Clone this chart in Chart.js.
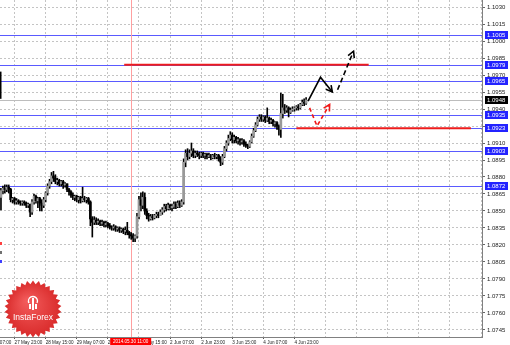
<!DOCTYPE html>
<html>
<head>
<meta charset="utf-8">
<script src="https://cdn.jsdelivr.net/npm/chart.js@4/dist/chart.umd.min.js"></script>
<style>
html, body { margin: 0; padding: 0; background: #fff; overflow: hidden; }
canvas { display: block; }
</style>
</head>
<body>
<canvas id="myChart" width="510" height="345"></canvas>
<script>
// H1 candles, 27 May - 4 Jun 2014
const opens = [
	1.0862, 1.0868, 1.0870, 1.0869, 1.0871, 1.0869, 1.0860, 1.0861, 1.0858, 1.0859,
	1.0858, 1.0857, 1.0858, 1.0857, 1.0855, 1.0856, 1.0849, 1.0858, 1.0863, 1.0859,
	1.0861, 1.0857, 1.0855, 1.0860, 1.0866, 1.0872, 1.0876, 1.0881, 1.0879, 1.0876,
	1.0877, 1.0874, 1.0876, 1.0873, 1.0874, 1.0869, 1.0867, 1.0864, 1.0862, 1.0863,
	1.0860, 1.0862, 1.0859, 1.0861, 1.0860, 1.0861, 1.0858, 1.0843, 1.0840, 1.0842,
	1.0840, 1.0841, 1.0839, 1.0840, 1.0838, 1.0839, 1.0837, 1.0836, 1.0835, 1.0836,
	1.0834, 1.0835, 1.0833, 1.0834, 1.0832, 1.0833, 1.0831, 1.0829, 1.0828, 1.0826,
	1.0828, 1.0845, 1.0860, 1.0855, 1.0862, 1.0850, 1.0846, 1.0843, 1.0845, 1.0844,
	1.0846, 1.0847, 1.0846, 1.0849, 1.0851, 1.0854, 1.0852, 1.0855, 1.0853, 1.0854,
	1.0856, 1.0854, 1.0857, 1.0855, 1.0858, 1.0893, 1.0901, 1.0898, 1.0901, 1.0903,
	1.0899, 1.0901, 1.0900, 1.0899, 1.0901, 1.0899, 1.0900, 1.0898, 1.0899, 1.0897,
	1.0899, 1.0898, 1.0899, 1.0896, 1.0893, 1.0898, 1.0905, 1.0910, 1.0914, 1.0917,
	1.0913, 1.0915, 1.0912, 1.0913, 1.0911, 1.0912, 1.0909, 1.0908, 1.0907, 1.0911,
	1.0916, 1.0921, 1.0926, 1.0931, 1.0933, 1.0931, 1.0933, 1.0930, 1.0932, 1.0929,
	1.0930, 1.0927, 1.0928, 1.0925, 1.0922, 1.0936, 1.0941, 1.0939, 1.0941, 1.0937,
	1.0939, 1.0940, 1.0941, 1.0942, 1.0941, 1.0944, 1.0946, 1.0945,
];
const highs = [
	1.0870, 1.0872, 1.0873, 1.0873, 1.0873, 1.0870, 1.0862, 1.0862, 1.0861, 1.0860,
	1.0859, 1.0859, 1.0859, 1.0858, 1.0857, 1.0856, 1.0860, 1.0865, 1.0864, 1.0862,
	1.0862, 1.0860, 1.0862, 1.0867, 1.0874, 1.0878, 1.0884, 1.0885, 1.0882, 1.0879,
	1.0878, 1.0877, 1.0877, 1.0875, 1.0874, 1.0870, 1.0868, 1.0866, 1.0864, 1.0864,
	1.0863, 1.0863, 1.0871, 1.0863, 1.0862, 1.0862, 1.0859, 1.0845, 1.0845, 1.0844,
	1.0843, 1.0842, 1.0842, 1.0841, 1.0841, 1.0840, 1.0839, 1.0837, 1.0838, 1.0837,
	1.0836, 1.0836, 1.0835, 1.0835, 1.0836, 1.0840, 1.0832, 1.0831, 1.0830, 1.0829,
	1.0848, 1.0863, 1.0866, 1.0867, 1.0866, 1.0852, 1.0848, 1.0847, 1.0847, 1.0847,
	1.0849, 1.0849, 1.0851, 1.0853, 1.0856, 1.0856, 1.0857, 1.0856, 1.0856, 1.0858,
	1.0858, 1.0859, 1.0859, 1.0860, 1.0896, 1.0904, 1.0905, 1.0904, 1.0910, 1.0905,
	1.0903, 1.0903, 1.0902, 1.0902, 1.0902, 1.0901, 1.0901, 1.0901, 1.0900, 1.0900,
	1.0901, 1.0900, 1.0900, 1.0898, 1.0900, 1.0907, 1.0912, 1.0917, 1.0920, 1.0919,
	1.0917, 1.0916, 1.0915, 1.0914, 1.0914, 1.0913, 1.0911, 1.0909, 1.0912, 1.0918,
	1.0923, 1.0928, 1.0933, 1.0935, 1.0935, 1.0934, 1.0934, 1.0941, 1.0933, 1.0932,
	1.0931, 1.0929, 1.0929, 1.0926, 1.0954, 1.0953, 1.0944, 1.0943, 1.0942, 1.0941,
	1.0942, 1.0942, 1.0943, 1.0944, 1.0945, 1.0948, 1.0949, 1.0950,
];
const lows = [
	1.0851, 1.0865, 1.0866, 1.0867, 1.0866, 1.0858, 1.0857, 1.0856, 1.0856, 1.0856,
	1.0855, 1.0855, 1.0855, 1.0853, 1.0853, 1.0845, 1.0847, 1.0856, 1.0857, 1.0853,
	1.0850, 1.0850, 1.0853, 1.0858, 1.0864, 1.0870, 1.0874, 1.0876, 1.0874, 1.0873,
	1.0872, 1.0872, 1.0870, 1.0871, 1.0867, 1.0864, 1.0862, 1.0860, 1.0859, 1.0858,
	1.0857, 1.0857, 1.0858, 1.0858, 1.0857, 1.0856, 1.0837, 1.0827, 1.0838, 1.0838,
	1.0838, 1.0837, 1.0837, 1.0836, 1.0836, 1.0835, 1.0834, 1.0833, 1.0833, 1.0832,
	1.0832, 1.0831, 1.0831, 1.0830, 1.0829, 1.0829, 1.0826, 1.0825, 1.0823, 1.0823,
	1.0826, 1.0843, 1.0850, 1.0852, 1.0847, 1.0843, 1.0841, 1.0842, 1.0842, 1.0843,
	1.0844, 1.0844, 1.0846, 1.0847, 1.0849, 1.0850, 1.0851, 1.0851, 1.0850, 1.0852,
	1.0852, 1.0853, 1.0853, 1.0854, 1.0856, 1.0889, 1.0895, 1.0896, 1.0898, 1.0897,
	1.0897, 1.0898, 1.0896, 1.0897, 1.0897, 1.0896, 1.0896, 1.0897, 1.0895, 1.0896,
	1.0896, 1.0896, 1.0894, 1.0890, 1.0891, 1.0897, 1.0903, 1.0908, 1.0912, 1.0910,
	1.0910, 1.0910, 1.0909, 1.0908, 1.0909, 1.0907, 1.0906, 1.0905, 1.0906, 1.0910,
	1.0915, 1.0920, 1.0925, 1.0929, 1.0929, 1.0929, 1.0928, 1.0929, 1.0927, 1.0927,
	1.0925, 1.0924, 1.0922, 1.0917, 1.0915, 1.0932, 1.0936, 1.0937, 1.0933, 1.0936,
	1.0938, 1.0938, 1.0939, 1.0939, 1.0940, 1.0943, 1.0943, 1.0944,
];
const closes = [
	1.0868, 1.0870, 1.0869, 1.0871, 1.0869, 1.0860, 1.0861, 1.0858, 1.0859, 1.0858,
	1.0857, 1.0858, 1.0857, 1.0855, 1.0856, 1.0849, 1.0858, 1.0863, 1.0859, 1.0861,
	1.0857, 1.0855, 1.0860, 1.0866, 1.0872, 1.0876, 1.0881, 1.0879, 1.0876, 1.0877,
	1.0874, 1.0876, 1.0873, 1.0874, 1.0869, 1.0867, 1.0864, 1.0862, 1.0863, 1.0860,
	1.0862, 1.0859, 1.0861, 1.0860, 1.0861, 1.0858, 1.0843, 1.0840, 1.0842, 1.0840,
	1.0841, 1.0839, 1.0840, 1.0838, 1.0839, 1.0837, 1.0836, 1.0835, 1.0836, 1.0834,
	1.0835, 1.0833, 1.0834, 1.0832, 1.0833, 1.0831, 1.0829, 1.0828, 1.0826, 1.0828,
	1.0845, 1.0860, 1.0855, 1.0862, 1.0850, 1.0846, 1.0843, 1.0845, 1.0844, 1.0846,
	1.0847, 1.0846, 1.0849, 1.0851, 1.0854, 1.0852, 1.0855, 1.0853, 1.0854, 1.0856,
	1.0854, 1.0857, 1.0855, 1.0858, 1.0893, 1.0901, 1.0898, 1.0901, 1.0903, 1.0899,
	1.0901, 1.0900, 1.0899, 1.0901, 1.0899, 1.0900, 1.0898, 1.0899, 1.0897, 1.0899,
	1.0898, 1.0899, 1.0896, 1.0893, 1.0898, 1.0905, 1.0910, 1.0914, 1.0917, 1.0913,
	1.0915, 1.0912, 1.0913, 1.0911, 1.0912, 1.0909, 1.0908, 1.0907, 1.0911, 1.0916,
	1.0921, 1.0926, 1.0931, 1.0933, 1.0931, 1.0933, 1.0930, 1.0932, 1.0929, 1.0930,
	1.0927, 1.0928, 1.0925, 1.0922, 1.0936, 1.0941, 1.0939, 1.0941, 1.0937, 1.0939,
	1.0940, 1.0941, 1.0942, 1.0941, 1.0944, 1.0946, 1.0945, 1.0948,
];

// time axis: one slot per hour, empty slots on the right
const slotCount = 248;
const timeTickIndex = [7, 23, 39, 55, 71, 87, 103, 119, 135, 151];
const timeTickText = [
	"27 May 23:00", "28 May 15:00", "29 May 07:00", "29 May 23:00", "30 May 15:00",
	"2 Jun 07:00", "2 Jun 23:00", "3 Jun 15:00", "4 Jun 07:00", "4 Jun 23:00",
];
const gridIndex = [7, 23, 39, 55, 71, 87, 103, 119, 135, 151, 167, 183, 199, 215, 231, 247];

// price axis
const priceTicks = [
	1.1030, 1.1015, 1.1000, 1.0985, 1.0970, 1.0955, 1.0940, 1.0925, 1.0910, 1.0895,
	1.0880, 1.0865, 1.0850, 1.0835, 1.0820, 1.0805, 1.0790, 1.0775, 1.0760, 1.0745,
];
const priceMin = 1.07388;
const priceMax = 1.10362;

// levels drawn on the chart
const levelPrices = [1.1005, 1.0979, 1.0965, 1.0935, 1.0923, 1.0903, 1.0872];
const bidPrice = 1.0948;
const markIndex = 67;
const markText = "2014.05.30 11:00";
const redLevels = [
	{ price: 1.0979, from: 63.4, to: 189.2 },
	{ price: 1.0923, from: 152, to: 241.8 },
];
const solidArrow = [[158.0, 1.0947], [164.4, 1.0968], [170.5, 1.0955]];
const dashedArrow = [[173.2, 1.0957], [181.4, 1.0991]];
const redArrow = [[158.8, 1.0941], [162.6, 1.0925], [169.1, 1.0944]];

const FONT = "'Liberation Sans', Arial, sans-serif";
const ctx = document.getElementById("myChart");

const labels = [];
for (let i = 0; i < slotCount; i++) labels.push(String(i));

const wicks = [];
const bodies = [];
const bodyColors = [];
for (let i = 0; i < slotCount; i++) {
	if (i < closes.length) {
		wicks.push([lows[i], highs[i]]);
		bodies.push([opens[i], closes[i]]);
		bodyColors.push(closes[i] >= opens[i] ? "#999999" : "#000000");
	} else {
		wicks.push(null);
		bodies.push(null);
		bodyColors.push("#000000");
	}
}

function polyline(c, pts, x, y) {
	c.beginPath();
	pts.forEach((p, k) => {
		const px = x.getPixelForValue(p[0]);
		const py = y.getPixelForValue(p[1]);
		if (k === 0) c.moveTo(px, py);
		else c.lineTo(px, py);
	});
	c.stroke();
}

function arrowHead(c, pts, x, y) {
	const a = pts[pts.length - 2];
	const b = pts[pts.length - 1];
	const ax = x.getPixelForValue(a[0]), ay = y.getPixelForValue(a[1]);
	const bx = x.getPixelForValue(b[0]), by = y.getPixelForValue(b[1]);
	const ang = Math.atan2(by - ay, bx - ax);
	c.setLineDash([]);
	c.beginPath();
	c.moveTo(bx - 7 * Math.cos(ang - 0.5), by - 7 * Math.sin(ang - 0.5));
	c.lineTo(bx, by);
	c.lineTo(bx - 7 * Math.cos(ang + 0.5), by - 7 * Math.sin(ang + 0.5));
	c.stroke();
}

function priceBox(c, y, p, fill) {
	const yy = Math.round(y.getPixelForValue(p));
	c.fillStyle = fill;
	c.fillRect(485, yy - 4, 23, 8);
	c.fillStyle = "#ffffff";
	c.font = "6px " + FONT;
	c.textBaseline = "middle";
	c.textAlign = "left";
	c.fillText(p.toFixed(4), 487, yy + 0.5);
}

const drawings = {
	id: "drawings",
	beforeDatasetsDraw(chart) {
		const { ctx: c, chartArea: a, scales: { x, y } } = chart;
		c.save();
		c.lineWidth = 1;
		c.strokeStyle = "#5a5aff";
		levelPrices.forEach((p) => {
			const yy = Math.round(y.getPixelForValue(p)) + 0.5;
			c.beginPath();
			c.moveTo(a.left, yy);
			c.lineTo(a.right, yy);
			c.stroke();
		});
		c.strokeStyle = "#bdbdbd";
		const by = Math.round(y.getPixelForValue(bidPrice)) + 0.5;
		c.beginPath();
		c.moveTo(a.left, by);
		c.lineTo(a.right, by);
		c.stroke();
		c.strokeStyle = "#ffa0a0";
		const mx = Math.round(x.getPixelForValue(markIndex)) + 0.5;
		c.beginPath();
		c.moveTo(mx, a.top);
		c.lineTo(mx, a.bottom);
		c.stroke();
		c.restore();
	},
	afterDatasetsDraw(chart) {
		const { ctx: c, scales: { x, y } } = chart;
		c.save();
		c.lineWidth = 2;
		c.strokeStyle = "#ee1c1c";
		redLevels.forEach((r) => {
			const yy = y.getPixelForValue(r.price);
			c.beginPath();
			c.moveTo(x.getPixelForValue(r.from), yy);
			c.lineTo(x.getPixelForValue(r.to), yy);
			c.stroke();
		});
		c.lineWidth = 1.6;
		c.strokeStyle = "#000000";
		polyline(c, solidArrow, x, y);
		arrowHead(c, solidArrow, x, y);
		c.setLineDash([5, 3]);
		polyline(c, dashedArrow, x, y);
		arrowHead(c, dashedArrow, x, y);
		c.strokeStyle = "#f01818";
		c.setLineDash([4, 3]);
		polyline(c, redArrow, x, y);
		arrowHead(c, redArrow, x, y);
		c.restore();
	},
	afterDraw(chart) {
		const { ctx: c, chartArea: a, scales: { x, y } } = chart;
		c.save();
		levelPrices.forEach((p) => priceBox(c, y, p, "#2323ff"));
		priceBox(c, y, bidPrice, "#000000");

		// first, cut off time label
		c.fillStyle = "#222";
		c.font = "4.6px " + FONT;
		c.textAlign = "left";
		c.textBaseline = "top";
		c.fillText("27 May 07:00", x.getPixelForValue(-9), a.bottom + 3);

		// marker time box
		const mx = x.getPixelForValue(markIndex);
		c.fillStyle = "#ff0000";
		c.fillRect(mx - 21, a.bottom + 1, 41, 7);
		c.fillStyle = "#ffffff";
		c.textAlign = "center";
		c.fillText(markText, mx - 0.5, a.bottom + 2.5);

		// small markers on left edge
		c.fillStyle = "#000";
		c.fillRect(a.left, y.getPixelForValue(1.0973), 1.5, y.getPixelForValue(1.0949) - y.getPixelForValue(1.0973));
		c.fillStyle = "#ff4040";
		c.fillRect(a.left, 242, 2, 3);
		c.fillStyle = "#707070";
		c.fillRect(a.left, 251, 2, 3);
		c.fillStyle = "#4040ff";
		c.fillRect(a.left, 260, 2, 3);

		// InstaForex badge
		c.beginPath();
		c.rect(a.left, a.top, a.right - a.left, a.bottom - a.top);
		c.clip();
		const cx = 33, cy = 309;
		const n = 30;
		c.beginPath();
		for (let k = 0; k < n * 2; k++) {
			const r = k % 2 === 0 ? 28.5 : 25;
			const t = (Math.PI * k) / n - Math.PI / 2;
			const px = cx + r * Math.cos(t), py = cy + r * Math.sin(t);
			if (k === 0) c.moveTo(px, py);
			else c.lineTo(px, py);
		}
		c.closePath();
		const g = c.createRadialGradient(cx - 6, cy - 8, 2, cx, cy, 28);
		g.addColorStop(0, "#f25a5a");
		g.addColorStop(1, "#d92b2b");
		c.fillStyle = g;
		c.fill();
		c.fillStyle = "#ffffff";
		c.strokeStyle = "#ffffff";
		c.lineWidth = 1.4;
		c.beginPath();
		c.arc(cx, cy - 8, 4.5, Math.PI * 0.85, Math.PI * 2.15);
		c.stroke();
		c.fillRect(cx - 1, cy - 11, 2, 12);
		c.fillRect(cx - 4, cy - 5, 2, 5);
		c.fillRect(cx + 2, cy - 5, 2, 5);
		c.font = "8.5px " + FONT;
		c.textAlign = "center";
		c.textBaseline = "middle";
		c.fillText("InstaForex", cx, cy + 9);
		c.restore();
	},
};

const candleChart = new Chart(ctx, {
	type: "bar",
	data: {
		labels: labels,
		datasets: [
			{
				label: "body",
				data: bodies,
				backgroundColor: bodyColors,
				barThickness: 2,
				minBarLength: 1,
				grouped: false,
				order: 0,
			},
			{
				label: "wick",
				data: wicks,
				backgroundColor: "#000000",
				barThickness: 1,
				grouped: false,
				order: 1,
			},
		],
	},
	options: {
		responsive: false,
		animation: false,
		devicePixelRatio: 1,
		layout: { padding: 0 },
		plugins: {
			legend: { display: false },
			tooltip: { enabled: false },
		},
		scales: {
			x: {
				type: "category",
				offset: true,
				grid: {
					offset: false,
					tickLength: 2,
					color: (c) => (gridIndex.includes(c.index) ? "#c4c4c4" : "rgba(0,0,0,0)"),
					tickColor: (c) => (timeTickIndex.includes(c.index) ? "#555" : "rgba(0,0,0,0)"),
				},
				border: { display: true, color: "#808080", dash: [2, 2] },
				ticks: {
					autoSkip: false,
					maxRotation: 0,
					minRotation: 0,
					align: "start",
					padding: 1,
					color: "#222",
					font: { family: FONT, size: 4.6 },
					callback: (v, i) => {
						const k = timeTickIndex.indexOf(i);
						return k >= 0 ? timeTickText[k] : "";
					},
				},
				afterFit: (s) => {
					s.height = 8;
					s.paddingLeft = 0;
					s.paddingRight = 0;
				},
			},
			y: {
				position: "right",
				min: priceMin,
				max: priceMax,
				afterBuildTicks: (s) => {
					s.ticks = priceTicks.map((v) => ({ value: v }));
				},
				grid: { color: "#c4c4c4", tickLength: 3, tickColor: "#666" },
				border: { display: true, color: "#808080", dash: [2, 2] },
				ticks: {
					padding: 2,
					color: "#222",
					font: { family: FONT, size: 6 },
					callback: (v) => Number(v).toFixed(4),
				},
				afterFit: (s) => {
					s.width = 28;
					s.paddingTop = 0;
					s.paddingBottom = 0;
				},
			},
		},
	},
	plugins: [drawings],
});
</script>
</body>
</html>
